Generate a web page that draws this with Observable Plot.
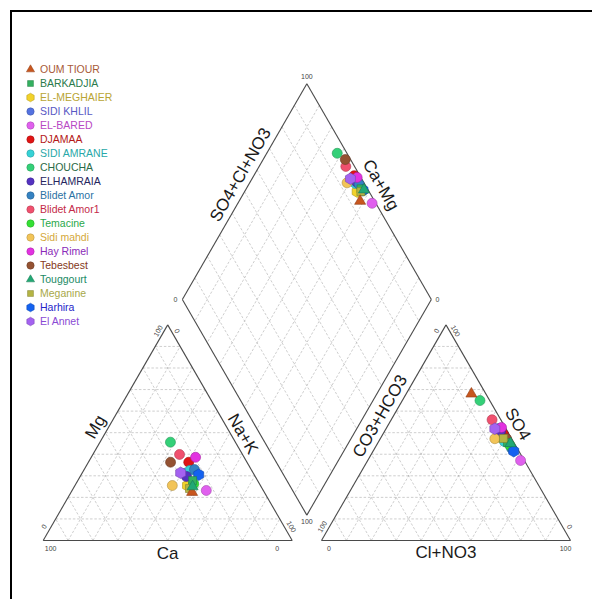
<!DOCTYPE html>
<html><head><meta charset="utf-8">
<script src="https://cdn.jsdelivr.net/npm/d3@7"></script>
<script src="https://cdn.jsdelivr.net/npm/@observablehq/plot@0.6"></script>
<style>
body{margin:0;background:#fff;}
#wrap{position:relative;width:592px;height:599px;overflow:hidden;background:#fff;}
#wrap svg{position:absolute;left:0;top:0;}
#frame{position:absolute;left:10px;top:10px;width:600px;height:600px;border-top:2px solid #000;border-left:2px solid #000;pointer-events:none;}
</style></head><body><div id="wrap"></div>
<script>
// ---------- data ----------
const sites = ["OUM TIOUR","BARKADJIA","EL-MEGHAIER","SIDI KHLIL","EL-BARED","DJAMAA","SIDI AMRANE","CHOUCHA","ELHAMRAIA","Blidet Amor","Blidet Amor1","Temacine","Sidi mahdi","Hay Rimel","Tebesbest","Touggourt","Meganine","Harhira","El Annet"];
const symbols = ["triangle","square","hexagon","circle","circle","circle","circle","circle","circle","circle","circle","circle","circle","circle","circle","triangle","square","hexagon","hexagon"];
const fillColors = ["#c8561e","#34b060","#f2d22a","#5472e0","#e060ee","#e01414","#36d2d6","#34d078","#5432c0","#3482c2","#f0506e","#34e034","#f2c458","#e232e0","#945232","#22a874","#b4b444","#1462f0","#a462f0"];
const textColors = ["#a85a38","#2a7a4c","#b8a434","#5858c4","#b848c4","#b41818","#28a8a8","#2a6a46","#26265e","#2a72a4","#c42a48","#2aa84a","#d4a83a","#8a2ab8","#84381a","#1a8a64","#a8a848","#2424c8","#8a4ad4"];
// cations (%)
const Ca  = [29.0,26.1,29.3,27.7,22.9,23.4,24.9,26.1,27.6,22.8,25.3,26.4,35.4,19.5,30.7,27.5,29.2,22.3,29.1];
const Mg  = [22.4,27.8,25.5,31.1,23.2,36.3,32.5,45.6,29.7,32.9,39.9,26.3,25.5,38.6,36.3,25.0,24.1,30.5,31.4];
const NaK = [48.6,46.1,45.2,41.2,53.9,40.3,42.6,28.3,42.7,44.3,34.8,47.3,39.1,41.9,33.0,47.5,46.7,47.2,39.5];
// anions (%)
const HCO3 = [5.8,2.6,4.8,3.0,1.5,2.3,3.6,3.9,2.8,2.3,3.5,2.3,6.8,1.5,2.1,1.6,3.3,2.1,4.5];
const SO4  = [68.0,45.4,48.2,51.9,37.1,49.2,45.9,64.9,50.6,42.7,56.0,44.1,47.2,52.4,47.2,45.0,47.3,41.4,51.8];
const Cl   = [26.2,52.0,47.0,45.1,61.4,48.5,50.5,31.2,46.6,55.0,40.5,53.6,46.0,46.1,50.7,53.4,49.4,56.5,43.7];
const gridTicks = [10,20,30,40,50,60,70,80,90];

// ---------- geometry ----------
const k = 2.49, g = 11.77, H = Math.sqrt(3)/2;
const tern = (ox, a, b) => [ox + a + b/2, b*H];
const BL=[0,0], BR=[100,0], AP=[50,100*H];
const BL2=[100+g,0], BR2=[200+g,0], AP2=[150+g,100*H];
const B=[100+g/2, g*H], L=[B[0]-50, B[1]+100*H], R=[B[0]+50, B[1]+100*H], T=[B[0], B[1]+200*H];
const dia = (n,h) => [T[0]+n/100*(R[0]-T[0])+h/100*(L[0]-T[0]), T[1]+n/100*(R[1]-T[1])+h/100*(L[1]-T[1])];
const ox2 = 100+g;
const symSize = {triangle:0.82, square:0.9, hexagon:1, circle:1};

const rows = sites.map((s,i) => {
  const c = tern(0, NaK[i], Mg[i]);
  const a = tern(ox2, Cl[i], SO4[i]);
  const d = dia(NaK[i], HCO3[i]);
  return {site:s, symbol:symbols[i], fill:fillColors[i], stroke:d3.color(fillColors[i]).darker(0.9).formatHex(), tcolor:textColors[i],
    rm:5*symSize[symbols[i]], rl:3.7*symSize[symbols[i]],
    cx:c[0], cy:c[1], ax:a[0], ay:a[1], dx:d[0], dy:d[1]};
});

const seg = (p,q) => ({x1:p[0],y1:p[1],x2:q[0],y2:q[1]});
const grid = [];
for (const v of gridTicks) {
  for (const ox of [0, ox2]) {
    grid.push(seg(tern(ox,0,v), tern(ox,100-v,v)));
    grid.push(seg(tern(ox,v,0), tern(ox,v,100-v)));
    grid.push(seg(tern(ox,100-v,0), tern(ox,0,100-v)));
  }
  grid.push(seg(dia(v,0), dia(v,100)));
  grid.push(seg(dia(0,v), dia(100,v)));
}
const edges = [seg(BL,BR),seg(BR,AP),seg(AP,BL),seg(BL2,BR2),seg(BR2,AP2),seg(AP2,BL2),seg(B,R),seg(R,T),seg(T,L),seg(L,B)];

function along(A, Bp, s, off) {
  const dx=Bp[0]-A[0], dy=Bp[1]-A[1], len=Math.hypot(dx,dy);
  const nx=-dy/len, ny=dx/len;
  return [A[0]+s*dx+nx*off/k, A[1]+s*dy+ny*off/k];
}
const lab = (p, text, rotate) => ({x:p[0], y:p[1], text, rotate});
const titles = [
  lab(along(BL,BR,0.5,-13),"Ca",0),
  lab(along(BL,AP,0.5,11.5),"Mg",-60),
  lab(along(BR,AP,0.47,-10.5),"Na+K",60),
  lab(along(BL2,BR2,0.5,-12.5),"Cl+NO3",0),
  lab(along(BL2,AP2,0.55,11.5),"CO3+HCO3",-60),
  lab(along(BR2,AP2,0.51,-12.5),"SO4",60),
  lab(along(L,T,0.55,12),"SO4+Cl+NO3",-60),
  lab(along(R,T,0.5,-13.5),"Ca+Mg",60)
];
const ticks = [
  lab(along(BL,BR,0.03,-8),"100",0), lab(along(BL,BR,0.94,-8),"0",0),
  lab(along(BL,AP,0.05,6),"0",-60), lab(along(BL,AP,0.96,5),"100",-60),
  lab(along(BR,AP,0.05,-6),"100",60), lab(along(BR,AP,0.96,-5),"0",60),
  lab(along(BL2,BR2,0.03,-8),"0",0), lab(along(BL2,BR2,0.98,-8),"100",0),
  lab(along(BL2,AP2,0.05,6),"100",-60), lab(along(BL2,AP2,0.96,5),"0",-60),
  lab(along(BR2,AP2,0.05,-6),"0",60), lab(along(BR2,AP2,0.96,-5),"100",60),
  lab([T[0],T[1]+7/k],"100",0), lab([L[0]-7/k,L[1]],"0",0),
  lab([R[0]+6/k,R[1]],"0",0), lab([B[0],B[1]-7/k],"100",0)
];

const font = "Liberation Sans, Arial, Helvetica, sans-serif";
const symNames = ["triangle","square","hexagon","circle"];

const main = Plot.plot({
  width:592, height:599, margin:0,
  style:{background:"transparent", fontFamily:font, overflow:"visible"},
  x:{domain:[0,200+g], range:[42.7,570], axis:null},
  y:{domain:[0,100], range:[540,540-100*k], axis:null},
  r:{type:"identity"},
  symbol:{domain:symNames, range:symNames},
  color:{type:"identity"},
  marks:[
    Plot.link(grid,{x1:"x1",y1:"y1",x2:"x2",y2:"y2",stroke:"#adadad",strokeWidth:0.6,strokeDasharray:"2.5,1.8"}),
    Plot.link(edges,{x1:"x1",y1:"y1",x2:"x2",y2:"y2",stroke:"#4a4a4a",strokeWidth:1.1}),
    Plot.text(titles,{x:"x",y:"y",text:"text",rotate:"rotate",fontSize:17,fill:"#1a1a1a",fontFamily:font}),
    Plot.text(ticks,{x:"x",y:"y",text:"text",rotate:"rotate",fontSize:7,fill:"#444",fontFamily:font}),
    Plot.dot(rows,{x:"cx",y:"cy",symbol:"symbol",fill:"fill",stroke:"stroke",strokeWidth:0.6,r:"rm"}),
    Plot.dot(rows,{x:"ax",y:"ay",symbol:"symbol",fill:"fill",stroke:"stroke",strokeWidth:0.6,r:"rm"}),
    Plot.dot(rows,{x:"dx",y:"dy",symbol:"symbol",fill:"fill",stroke:"stroke",strokeWidth:0.6,r:"rm"})
  ]
});

const legend = Plot.plot({
  width:180, height:340, margin:0,
  style:{background:"transparent", fontFamily:font, overflow:"visible"},
  x:{domain:[0,1], range:[30,39.5], axis:null},
  y:{type:"point", domain:sites, range:[68,321], padding:0, axis:null},
  r:{type:"identity"},
  symbol:{domain:symNames, range:symNames},
  color:{type:"identity"},
  marks:[
    Plot.dot(rows,{x:0,y:"site",symbol:"symbol",fill:"fill",stroke:"stroke",strokeWidth:0.5,r:"rl"}),
    Plot.text(rows,{x:1,y:"site",text:"site",fill:"tcolor",textAnchor:"start",fontSize:10.5,fontFamily:font})
  ]
});

const wrap = document.getElementById("wrap");
wrap.appendChild(main);
wrap.appendChild(legend);
const fr = document.createElement("div"); fr.id="frame"; wrap.appendChild(fr);
</script></body></html>
